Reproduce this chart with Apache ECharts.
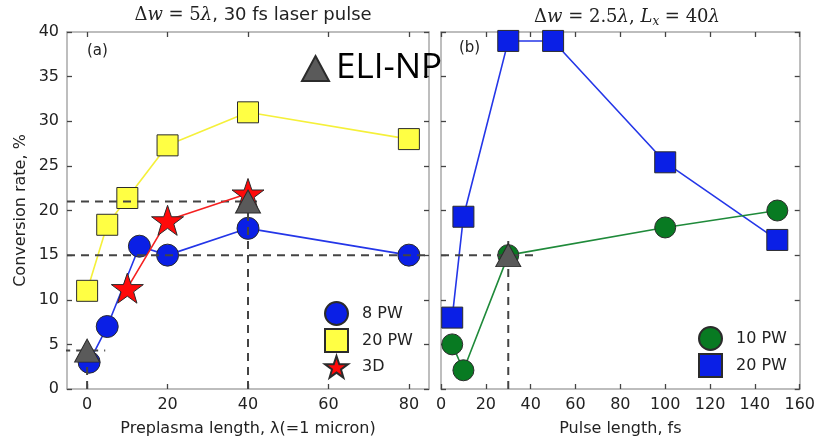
<!DOCTYPE html>
<html>
<head>
<meta charset="utf-8">
<script src="https://cdn.jsdelivr.net/npm/echarts@6/dist/echarts.min.js"></script>
<style>
  html, body { margin: 0; padding: 0; background: #fff; }
  #chart { width: 818px; height: 443px; }
</style>
</head>
<body>
<div id="chart"></div>
<script>
// ---- Panel (a): conversion rate vs preplasma length ----
const pw8X = [0.5, 5, 13, 20, 40, 80];
const pw8Y = [3, 7, 16, 15, 18, 15];
const pw20aX = [0, 5, 10, 20, 40, 80];
const pw20aY = [11, 18.4, 21.4, 27.3, 31, 28];
const d3X = [10, 20, 40];
const d3Y = [11.3, 18.9, 21.9];
const eliAX = [0, 40];
const eliAY = [4.3, 21];

// ---- Panel (b): conversion rate vs pulse length ----
const pw10X = [5, 10, 30, 100, 150];
const pw10Y = [5, 2.1, 15, 18.1, 20];
const pw20bX = [5, 10, 30, 50, 100, 150];
const pw20bY = [8, 19.3, 39, 39, 25.4, 16.7];
const eliBX = [30];
const eliBY = [15];

// Guide lines (dashed), as [x0, y0, x1, y1] in data units
const guidesA = [
  [-5, 15, 88, 15],
  [-5, 21, 43, 21],
  [-6.2, 4.3, 4.5, 4.3],
  [0, 0, 0, 4.3],
  [40, 0, 40, 22]
];
const guidesB = [
  [0, 15, 43, 15],
  [30, 0, 30, 17]
];

// Axis ticks
const xTicksA = [0, 20, 40, 60, 80];
const xTicksB = [0, 20, 40, 60, 80, 100, 120, 140, 160];

const zip = (xs, ys) => xs.map((x, i) => [x, ys[i]]);

const STAR = 'path://M50,0 L61.8,35.1 L98.9,35.1 L69.1,57.3 L79.4,91.9 L50,70.5 L20.6,91.9 L30.9,57.3 L1.1,35.1 L38.2,35.1 Z';
const EDGE = '#2b2b2b';
const FONT = 'DejaVu Sans';
const MATH = 'DejaVu Serif';

const frameColor = '#a8a8a8';
const tickColor = '#444';

function xAxis(grid, pos, min, max, ticks, showLabel, name) {
  return {
    type: 'value', gridIndex: grid, position: pos, min: min, max: max,
    splitLine: { show: false },
    axisLine: { show: true, onZero: false, lineStyle: { color: frameColor, width: 1.5 } },
    axisTick: { show: true, inside: true, length: 5, customValues: ticks, lineStyle: { color: tickColor, width: 1.3 } },
    axisLabel: { show: showLabel, customValues: ticks, color: '#222', fontFamily: FONT, fontSize: 16, margin: 8 },
    name: name || '', nameLocation: 'middle', nameGap: 32,
    nameTextStyle: { color: '#222', fontFamily: FONT, fontSize: 16 }
  };
}
function yAxis(grid, pos, showLabel, name) {
  return {
    type: 'value', gridIndex: grid, position: pos, min: 0, max: 40, interval: 5,
    splitLine: { show: false },
    axisLine: { show: true, onZero: false, lineStyle: { color: frameColor, width: 1.5 } },
    axisTick: { show: true, inside: true, length: 5, lineStyle: { color: tickColor, width: 1.3 } },
    axisLabel: { show: showLabel, color: '#222', fontFamily: FONT, fontSize: 16, margin: 8 },
    name: name || '', nameLocation: 'middle', nameGap: 38,
    nameTextStyle: { color: '#222', fontFamily: FONT, fontSize: 16 }
  };
}

function guideSeries(lines, xi, yi) {
  return lines.map(g => ({
    type: 'line', xAxisIndex: xi, yAxisIndex: yi, clip: false, silent: true,
    showSymbol: false, symbol: 'none', z: 3,
    data: [[g[0], g[1]], [g[2], g[3]]],
    lineStyle: { color: '#444', width: 2, type: [8, 6] }
  }));
}

function markerSeries(name, xi, yi, xs, ys, opts) {
  return {
    name: name, type: 'line', xAxisIndex: xi, yAxisIndex: yi, clip: false,
    data: zip(xs, ys), symbol: opts.symbol, symbolSize: opts.size, symbolKeepAspect: true,
    showSymbol: true, z: opts.z || 2,
    lineStyle: { color: opts.line, width: opts.lineWidth === undefined ? 1.6 : opts.lineWidth },
    itemStyle: { color: opts.fill, borderColor: EDGE, borderWidth: 1, opacity: 1 },
    emphasis: { disabled: true }
  };
}

const series = [
  markerSeries('a|20 PW', 0, 0, pw20aX, pw20aY, { symbol: 'rect', size: 21, fill: '#ffff44', line: '#f5f03a' }),
  markerSeries('a|8 PW', 0, 0, pw8X, pw8Y, { symbol: 'circle', size: 22, fill: '#0a1fe6', line: '#2436e8' }),
  ...guideSeries(guidesA, 0, 0),
  markerSeries('a|3D', 0, 0, d3X, d3Y, { symbol: STAR, size: 32, fill: '#ff0a0a', line: '#f52020', z: 4 }),
  markerSeries('ELI-NP', 0, 0, eliAX, eliAY, { symbol: 'triangle', size: [25, 23], fill: '#5a5a5a', line: 'rgba(0,0,0,0)', lineWidth: 0, z: 5 }),

  markerSeries('b|20 PW', 2, 2, pw20bX, pw20bY, { symbol: 'rect', size: 21, fill: '#0a1fe6', line: '#2436e8' }),
  markerSeries('b|10 PW', 2, 2, pw10X, pw10Y, { symbol: 'circle', size: 21, fill: '#087a22', line: '#1f8a3a' }),
  ...guideSeries(guidesB, 2, 2),
  markerSeries('ELI-NP', 2, 2, eliBX, eliBY, { symbol: 'triangle', size: [25, 23], fill: '#5a5a5a', line: 'rgba(0,0,0,0)', lineWidth: 0, z: 5 })
];

const legendText = { color: '#222', fontFamily: FONT, fontSize: 16, padding: [0, 0, 0, 9] };
const strip = n => n.split('|').pop();

const mathRich = {
  m: { fontFamily: MATH, fontSize: 18, fontWeight: 'normal', color: '#222' },
  i: { fontFamily: MATH, fontStyle: 'italic', fontWeight: 'normal', fontSize: 18, color: '#222' },
  t: { fontFamily: FONT, fontSize: 18, fontWeight: 'normal', color: '#222' },
  s: { fontFamily: MATH, fontStyle: 'italic', fontWeight: 'normal', fontSize: 12, color: '#222', padding: [10, 0, 0, 0] }
};

const option = {
  animation: false,
  backgroundColor: '#fff',
  title: [
    {
      left: 248, top: 1, textAlign: 'center',
      text: '{m|Δ}{i|w}{m| = 5}{i|λ}{t|, 30 fs laser pulse}',
      textStyle: { fontWeight: 'normal', rich: mathRich }
    },
    {
      left: 622, top: 1, textAlign: 'center',
      text: '{m|Δ}{i|w}{m| = 2.5}{i|λ}{m|, }{i|L}{s|x}{m| = 40}{i|λ}',
      textStyle: { fontWeight: 'normal', rich: mathRich }
    }
  ],
  grid: [
    { left: 67, right: 389, top: 32, height: 357 },
    { left: 441, right: 15, top: 32, height: 357 }
  ],
  xAxis: [
    xAxis(0, 'bottom', -5, 85, xTicksA, true, 'Preplasma length, λ(=1 micron)'),
    xAxis(0, 'top', -5, 85, xTicksA, false),
    xAxis(1, 'bottom', 0, 160, xTicksB, true, 'Pulse length, fs'),
    xAxis(1, 'top', 0, 160, xTicksB, false)
  ],
  yAxis: [
    yAxis(0, 'left', true, 'Conversion rate, %'),
    yAxis(0, 'right', false),
    yAxis(1, 'left', false),
    yAxis(1, 'right', false)
  ],
  legend: [
    {
      orient: 'vertical', left: 319, top: 296, itemWidth: 23, itemHeight: 23, itemGap: 2,
      selectedMode: false, formatter: strip, textStyle: legendText,
      data: [
        { name: 'a|8 PW', icon: 'circle' },
        { name: 'a|20 PW', icon: 'rect' },
        { name: 'a|3D', icon: STAR }
      ]
    },
    {
      orient: 'vertical', left: 693, top: 321, itemWidth: 23, itemHeight: 23, itemGap: 2,
      selectedMode: false, formatter: strip, textStyle: legendText,
      data: [
        { name: 'b|10 PW', icon: 'circle' },
        { name: 'b|20 PW', icon: 'rect' }
      ]
    },
    {
      left: 296, top: 46, itemWidth: 27, itemHeight: 25, selectedMode: false,
      textStyle: { color: '#000', fontFamily: 'Open Sans', fontSize: 35, padding: [0, 0, 0, 2] },
      data: [{ name: 'ELI-NP', icon: 'triangle' }]
    }
  ],
  graphic: [
    { type: 'text', left: 87, top: 44, style: { text: '(a)', fill: '#222', font: '15px "DejaVu Sans"' } },
    { type: 'text', left: 459, top: 41, style: { text: '(b)', fill: '#222', font: '15px "DejaVu Sans"' } }
  ],
  series: series
};

const chart = echarts.init(document.getElementById('chart'), null, { renderer: 'canvas' });
chart.setOption(option);
</script>
</body>
</html>
